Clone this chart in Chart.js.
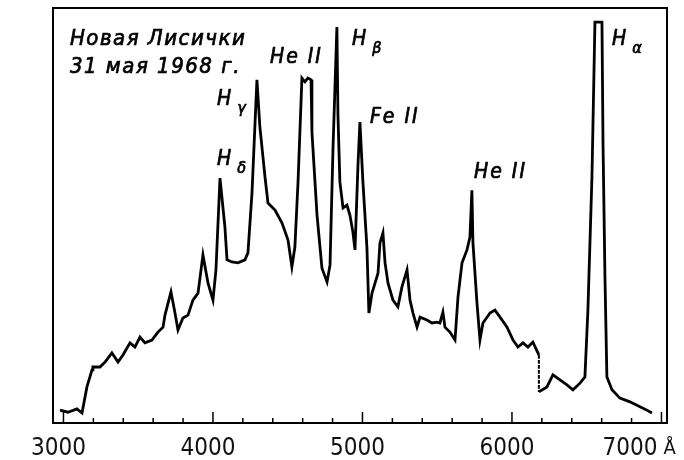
<!DOCTYPE html>
<html>
<head>
<meta charset="utf-8">
<script src="https://cdn.jsdelivr.net/npm/chart.js@4.4.1/dist/chart.umd.min.js"></script>
<style>
html, body { margin: 0; padding: 0; background: #fff; }
</style>
</head>
<body>
<canvas id="myChart" width="684" height="460"></canvas>
<script>
// spectrum of Nova Vulpeculae, 31 May 1968 (wavelength in Angstrom, relative flux)
let wavelength = [
  2977, 3030, 3090, 3124, 3157, 3191, 3197, 3244, 3278, 3324,
  3365, 3398, 3445, 3478, 3512, 3545, 3592, 3632, 3666, 3679,
  3719, 3746, 3766, 3799, 3833, 3866, 3900, 3933, 3967, 4000,
  4020, 4047, 4080, 4094, 4127, 4167, 4214, 4234, 4261, 4294,
  4314, 4348, 4368, 4415, 4462, 4502, 4528, 4548, 4569, 4595,
  4615, 4635, 4656, 4662, 4696, 4729, 4763, 4783, 4803, 4829,
  4836, 4849, 4870, 4896, 4916, 4936, 4950, 4970, 4983, 5003,
  5030, 5043, 5064, 5084, 5104, 5117, 5137, 5151, 5171, 5204,
  5237, 5264, 5298, 5318, 5338, 5365, 5385, 5431, 5465, 5498,
  5518, 5538, 5552, 5585, 5619, 5639, 5666, 5699, 5719, 5732,
  5739, 5766, 5786, 5806, 5853, 5886, 5920, 5967, 6007, 6040,
  6074, 6107, 6140, 6180, 6180, 6234, 6274, 6321, 6368, 6408,
  6455, 6488, 6508, 6535, 6555, 6602, 6609, 6622, 6635, 6669,
  6722, 6789, 6856, 6903, 6936
]
let flux = [
  3.1, 2.6, 3.4, 2.4, 8.7, 12.8, 13.5, 13.5, 14.7, 16.9,
  14.7, 16.4, 19.3, 18.3, 20.7, 19.3, 20.0, 21.9, 23.1, 26.0,
  31.6, 26.5, 22.4, 25.3, 26.0, 29.6, 31.3, 40.5, 33.7, 29.6,
  36.9, 59.0, 47.2, 39.3, 38.8, 38.6, 39.3, 41.0, 55.4, 82.7,
  71.3, 59.3, 53.0, 51.3, 48.2, 44.1, 37.6, 42.4, 58.1, 83.1,
  82.2, 83.1, 82.7, 70.1, 50.1, 37.3, 34.0, 38.1, 66.3, 95.4,
  74.2, 58.1, 51.8, 52.5, 50.1, 46.0, 41.7, 62.2, 72.5, 58.1,
  42.2, 26.5, 31.3, 33.7, 36.1, 43.4, 45.8, 38.6, 33.7, 29.6,
  28.0, 32.8, 36.9, 29.6, 26.5, 23.1, 25.5, 24.8, 24.1, 24.3,
  24.1, 26.7, 23.1, 21.9, 20.0, 30.4, 38.6, 41.7, 44.8, 56.1,
  43.4, 28.9, 20.0, 24.1, 26.5, 27.2, 25.5, 23.1, 20.0, 18.3,
  19.3, 18.3, 19.5, 16.4, 7.5, 8.7, 11.6, 10.4, 9.2, 8.0,
  9.6, 11.1, 27.2, 59.3, 96.6, 96.6, 67.5, 35.2, 11.1, 8.0,
  6.0, 5.1, 3.9, 3.1, 2.4
]
let gapAt = 6180   // the dotted jump where two plates join

let xTicks = [3000, 4000, 5000, 6000, 7000]
let minorStep = 200

let caption = [
  {text: "Новая Лисички", x: 3043, y: 91.1},
  {text: "31 мая 1968 г.", x: 3043, y: 84.3}
]
let lineNames = [
  {text: "He II", x: 4381, y: 86.7},
  {text: "H", sub: "γ", x: 4027, y: 76.6},
  {text: "H", sub: "δ", x: 4027, y: 62.2},
  {text: "H", sub: "β", x: 4930, y: 91.1},
  {text: "Fe II", x: 5050, y: 72.3},
  {text: "He II", x: 5746, y: 59.0},
  {text: "H", sub: "α", x: 6669, y: 91.1}
]

let points = wavelength.map((w, i) => ({x: w, y: flux[i]}))

let captionFont = "italic 22px 'DejaVu Sans Condensed'"
let labelFont = "italic 21px 'DejaVu Sans Condensed'"
let subFont = "italic 16px 'DejaVu Sans Condensed'"
let tickFont = "24px 'DejaVu Sans Condensed'"

// fill and a thin stroke so the lettering looks like the inked original
function ink(ctx, text, x, y) {
  ctx.fillText(text, x, y)
  ctx.strokeText(text, x, y)
}

let decor = {
  id: "decor",
  afterDraw(chart) {
    let ctx = chart.ctx
    let a = chart.chartArea
    let xs = chart.scales.x
    let ys = chart.scales.y
    ctx.save()

    // frame
    ctx.strokeStyle = "#000"
    ctx.lineWidth = 2
    ctx.strokeRect(a.left, a.top, a.right - a.left, a.bottom - a.top)

    // inward ticks on the bottom axis
    ctx.lineWidth = 1.5
    for (let v = 3000; v <= 7000; v += minorStep) {
      let px = xs.getPixelForValue(v)
      let len = v % 1000 == 0 ? 11 : 5
      ctx.beginPath()
      ctx.moveTo(px, a.bottom)
      ctx.lineTo(px, a.bottom - len)
      ctx.stroke()
    }

    // tick labels
    ctx.fillStyle = "#111"
    ctx.font = tickFont
    ctx.textBaseline = "alphabetic"
    xTicks.forEach((v) => {
      let px = xs.getPixelForValue(v)
      if (v == 7000) {
        ctx.textAlign = "right"
        ctx.fillText(String(v), px - 4, 455)
        ctx.textAlign = "left"
        ctx.font = "20px 'DejaVu Sans Condensed'"
        ctx.fillText("Å", px + 2, 454)
        ctx.font = tickFont
      } else {
        ctx.textAlign = "center"
        ctx.fillText(String(v), px - 5, 455)
      }
    })

    // caption and line identifications
    ctx.textAlign = "left"
    ctx.fillStyle = "#000"
    ctx.strokeStyle = "#000"
    ctx.lineWidth = 0.7
    ctx.font = captionFont
    ctx.letterSpacing = "1.5px"
    caption.forEach((c) => {
      ink(ctx, c.text, xs.getPixelForValue(c.x), ys.getPixelForValue(c.y))
    })
    ctx.letterSpacing = "2px"
    lineNames.forEach((l) => {
      let px = xs.getPixelForValue(l.x)
      let py = ys.getPixelForValue(l.y)
      ctx.font = labelFont
      ink(ctx, l.text, px, py)
      if (l.sub) {
        let w = ctx.measureText(l.text).width
        ctx.font = subFont
        ink(ctx, l.sub, px + w + 4, py + 8)
      }
    })
    ctx.restore()
  }
}

let ctx = document.getElementById("myChart")
let myChart = new Chart(ctx, {
  type: "line",
  data: {
    datasets: [{
      data: points,
      borderColor: "#000",
      borderWidth: 2.8,
      pointRadius: 0,
      tension: 0,
      fill: false,
      segment: {
        borderDash: (c) => (c.p0.parsed.x == gapAt && c.p1.parsed.x == gapAt) ? [2, 3] : undefined,
        borderWidth: (c) => (c.p0.parsed.x == gapAt && c.p1.parsed.x == gapAt) ? 2 : undefined
      }
    }]
  },
  options: {
    responsive: false,
    animation: false,
    devicePixelRatio: 1,
    layout: {padding: {left: 53, right: 17, top: 8, bottom: 37}},
    plugins: {legend: {display: false}, tooltip: {enabled: false}},
    scales: {
      x: {type: "linear", min: 2930, max: 7037, display: false},
      y: {min: 0, max: 100, display: false}
    }
  },
  plugins: [decor]
})
</script>
</body>
</html>
